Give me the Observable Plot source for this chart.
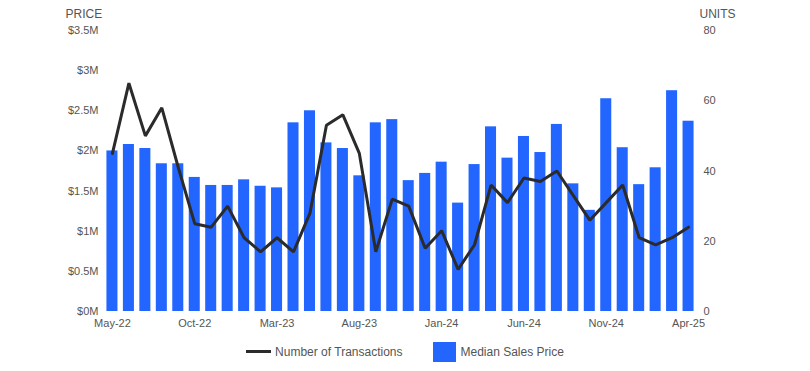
<!DOCTYPE html>
<html>
<head>
<meta charset="utf-8">
<script src="https://cdn.jsdelivr.net/npm/d3@7"></script>
<script src="https://cdn.jsdelivr.net/npm/@observablehq/plot@0.6"></script>
<style>
  body { margin: 0; background: #fff; font-family: "Liberation Sans", Arial, sans-serif; }
  #chart svg { display: block; }
  .legend { height: 39px; display: flex; justify-content: center; align-items: center; font-size: 12px; color: #555; }
  .legend .item { display: flex; align-items: center; }
  .legend .line { width: 25px; height: 3px; background: #2b2b2b; margin-right: 4px; }
  .legend .sq { width: 23px; height: 20px; background: #2266ff; margin-right: 5px; }
</style>
</head>
<body>
<div id="chart"></div>
<div class="legend">
  <div class="item" style="margin-right:30px"><div class="line"></div><span>Number of Transactions</span></div>
  <div class="item"><div class="sq"></div><span>Median Sales Price</span></div>
</div>
<script>
const months = ["May-22","Jun-22","Jul-22","Aug-22","Sep-22","Oct-22","Nov-22","Dec-22","Jan-23","Feb-23",
  "Mar-23","Apr-23","May-23","Jun-23","Jul-23","Aug-23","Sep-23","Oct-23","Nov-23","Dec-23",
  "Jan-24","Feb-24","Mar-24","Apr-24","May-24","Jun-24","Jul-24","Aug-24","Sep-24","Oct-24",
  "Nov-24","Dec-24","Jan-25","Feb-25","Mar-25","Apr-25"];
const medianPrice = [2.00,2.08,2.03,1.84,1.84,1.67,1.57,1.57,1.64,1.56,
  1.54,2.35,2.50,2.10,2.03,1.69,2.35,2.39,1.63,1.72,
  1.86,1.35,1.83,2.30,1.91,2.18,1.98,2.33,1.59,1.26,
  2.65,2.04,1.58,1.79,2.75,2.37]; // $M
const transactions = [45,65,50,58,41,25,24,30,21,17,
  21,17,28,53,56,45,17,32,30,18,
  23,12,19,36,31,38,37,40,33,26,
  31,36,21,19,21,24];
const priceTicks = [0,0.5,1,1.5,2,2.5,3,3.5];
const unitTicks = [0,20,40,60,80];
const xTicks = ["May-22","Oct-22","Mar-23","Aug-23","Jan-24","Jun-24","Nov-24","Apr-25"];

const priceMax = 3.5, unitMax = 80;
const toPrice = u => u * priceMax / unitMax;
const rows = months.map((m, i) => ({month: m, price: medianPrice[i], units: transactions[i]}));
const txt = "#555";

const chart = Plot.plot({
  width: 810,
  height: 332,
  marginLeft: 101,
  marginRight: 111,
  marginTop: 30,
  marginBottom: 21,
  style: {fontFamily: "'Liberation Sans', Arial, sans-serif", fontSize: "11px", color: txt, background: "#fff"},
  x: {type: "band", domain: months, paddingInner: 0.33, paddingOuter: 0.33, round: false, label: null},
  y: {domain: [0, priceMax], label: null},
  marks: [
    Plot.barY(rows, {x: "month", y: "price", fill: "#2266ff"}),
    Plot.line(rows, {x: "month", y: d => toPrice(d.units), stroke: "#2b2b2b", strokeWidth: 3, strokeLinejoin: "miter"}),
    Plot.axisX({ticks: xTicks, tickSize: 0, tickPadding: 8, fill: txt, label: null}),
    Plot.axisY({ticks: priceTicks, anchor: "left", tickSize: 0, tickPadding: 3, fill: txt, label: null,
      tickFormat: d => "$" + d + "M"}),
    Plot.axisY({ticks: unitTicks.map(toPrice), anchor: "right", tickSize: 0, tickPadding: 4, fill: txt, label: null,
      tickFormat: d => String(Math.round(d * unitMax / priceMax))}),
    Plot.text(["PRICE"], {text: d => d, frameAnchor: "top-left", lineAnchor: "middle", dx: -36, dy: -16, textAnchor: "start", fontSize: 12, fill: txt}),
    Plot.text(["UNITS"], {text: d => d, frameAnchor: "top-right", lineAnchor: "middle", dx: 0, dy: -16, textAnchor: "start", fontSize: 12, fill: txt})
  ]
});
document.getElementById("chart").appendChild(chart);
</script>
</body>
</html>
